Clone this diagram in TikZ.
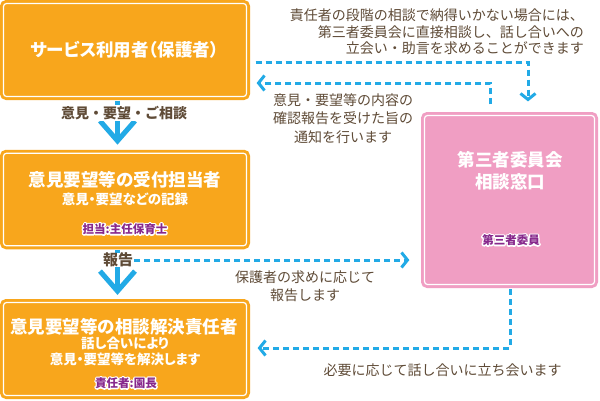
\documentclass[tikz,border=0pt]{standalone}
\usepackage{fontspec}
\setmainfont{Noto Sans CJK JP}
\newfontfamily\jpp[RawFeature=+palt]{Noto Sans CJK JP}
\usetikzlibrary{arrows.meta,calc}
\definecolor{orng}{RGB}{248,166,28}
\definecolor{pnk}{RGB}{240,158,195}
\definecolor{blu}{RGB}{34,170,230}
\definecolor{brn}{RGB}{95,75,55}
\definecolor{prp}{RGB}{135,40,140}
\tikzset{
  box/.style={draw=white, line width=1.2pt, rounded corners=3pt, inner sep=0pt,
    preaction={draw=#1, line width=7pt}, fill=#1},
  ttl/.style={text=white, inner sep=0pt, align=center, font=\jpp\bfseries\fontsize{17.5}{22}\selectfont},
  subt/.style={text=white, inner sep=0pt, align=center, font=\jpp\bfseries\fontsize{13.5}{16}\selectfont},
  plab/.style={text=prp, inner sep=0pt, font=\jpp\bfseries\fontsize{11.5}{13}\selectfont},
  side/.style={text=brn, inner sep=0pt, font=\fontsize{14}{18.5}\selectfont},
  blab/.style={text=brn, fill=white, inner xsep=1pt, inner ysep=1pt, font=\bfseries\fontsize{14}{16}\selectfont},
  solarr/.style={draw=blu, line width=5pt, -{Straight Barb[length=20pt,width=35pt]}},
  dsh/.style={draw=blu, line width=3pt, dash pattern=on 6pt off 4pt, -{Straight Barb[length=6pt,width=15pt]}}
}
\newcommand{\halo}[1]{\special{pdf:literal direct 2 Tr 2.8 w 1 j 1 1 1 RG}#1\special{pdf:literal direct 0 Tr 0.3985 w 0 j}}
\newcommand{\outlbl}[3]{%
  \node[plab,text=white] (#1o) at (#2) {\halo{#3}};
  \node[plab] (#1) at (#2) {#3};}
\begin{document}
\begin{tikzpicture}[x=1pt,y=-1pt]
\fill[white] (0,0) rectangle (600,400);
\useasboundingbox (0,0) rectangle (600,400);

\node[box=orng, minimum width=243pt, minimum height=93pt] (b1) at (125,50) {};
\node[box=orng, minimum width=243pt, minimum height=92.5pt] (b2) at (125,199.5) {};
\node[box=orng, minimum width=243pt, minimum height=93pt] (b3) at (125,349) {};
\node[box=pnk, minimum width=170pt, minimum height=169pt] (pk) at (509.5,200) {};

\draw[solarr] ([xshift=-7.5pt,yshift=-3.5pt]b1.south) -- ([xshift=-7.5pt,yshift=8pt]b2.north);
\draw[solarr] ([xshift=-7.5pt,yshift=-3.5pt]b2.south) -- ([xshift=-7.5pt,yshift=7pt]b3.north);
\node[blab] (l1) at (124,113) {意見・要望・ご相談};
\node[blab, font=\bfseries\fontsize{15}{16}\selectfont, inner ysep=0.3pt] (l2) at (118,260) {報告};

\node[ttl] (b1t) at (124.5,50) {サービス利用者（保護者）};
\node[ttl] (b2t) at (125,180) {意見要望等の受付担当者};
\node[subt] (b2s) at (125,199) {意見・要望などの記録};
\outlbl{b2l}{125,229}{担当:主任保育士}
\node[ttl] (b3t) at (124,327) {意見要望等の相談解決責任者};
\node[subt] (b3s) at (125,351) {話し合いにより\\意見・要望等を解決します};
\outlbl{b3l}{126,383}{責任者:園長}
\node[ttl] (pkt) at (510,171) {第三者委員会\\相談窓口};
\outlbl{pkl}{511,240}{第三者委員}

\node[side, align=right, anchor=east, font=\fontsize{14}{16.7}\selectfont] (t1) at (584,31.7)
  {責任者の段階の相談で納得いかない場合には、\\第三者委員会に直接相談し、話し合いへの\\立会い・助言を求めることができます};
\node[side, align=center] (t2) at (343,118.5) {意見・要望等の内容の\\確認報告を受けた旨の\\通知を行います};
\node[side, align=center, font=\fontsize{14}{18}\selectfont] (t3) at (305,286) {保護者の求めに応じて\\報告します};
\node[side] (t4) at (442.5,370) {必要に応じて話し合いに立ち会います};

\draw[dsh] ([xshift=8.5pt,yshift=-12pt]b1.east) -| ([xshift=18.5pt,yshift=13.5pt]pk.north);
\draw[dsh] ([xshift=-19.5pt,yshift=10.5pt]pk.north) |- ([xshift=9.5pt,yshift=-33pt]b1.east);
\draw[dsh] (l2.east) -- ($(pk.west |- l2.east)+(-14.5,0)$);
\draw[dsh] ([xshift=0.5pt,yshift=-4pt]pk.south) |- ([xshift=10.5pt,yshift=1pt]b3.east);
\end{tikzpicture}
\end{document}
